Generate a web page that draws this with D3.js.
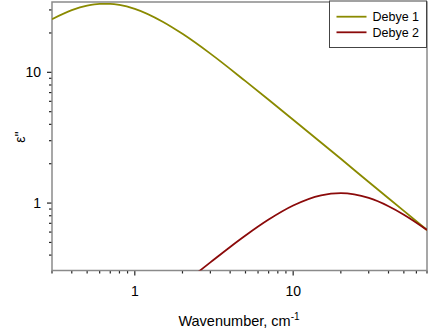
<!DOCTYPE html>
<html>
<head>
<meta charset="UTF-8" />
<script src="https://d3js.org/d3.v7.min.js"></script>
<style>
    body { margin: 0; background: white; }
    text { font-family: Arial, "Liberation Sans", sans-serif; fill: #000; }
</style>
</head>
<body>
<svg id="chart" width="429" height="331"></svg>
<script>
// values
const debye1X = [0.3, 0.4, 0.5, 0.6, 0.7, 0.8, 1, 1.5, 2, 3, 5, 7, 10, 20, 30, 50, 70];
const debye1Y = [25.5, 29.9, 32.4, 33.4, 33.4, 32.8, 30.6, 24.4, 19.7, 13.9, 8.56, 6.17, 4.34, 2.18, 1.45, 0.871, 0.622];
const debye2X = [2.5, 3, 4, 5, 7, 10, 15, 20, 30, 40, 50, 70];
const debye2Y = [0.296, 0.352, 0.462, 0.565, 0.748, 0.958, 1.146, 1.19, 1.094, 0.946, 0.815, 0.623];
const seriesNames = ['Debye 1', 'Debye 2'];
const seriesColors = ['#8a8a00', '#8b0a0a'];
const xMajor = [1, 10];
const yMajor = [1, 10];

const svg = d3.select('svg#chart');
const margins = {top: 2, right: 2, bottom: 60.5, left: 52};
const width = +svg.attr('width');
const height = +svg.attr('height');
const chartWidth = width - margins.left - margins.right;
const chartHeight = height - margins.top - margins.bottom;

const xScale = d3.scaleLog().domain([0.3, 70]).range([0, chartWidth]);
const yScale = d3.scaleLog().domain([0.305, 34.5]).range([chartHeight, 0]);

const chartArea = svg.append('g')
    .attr('transform', `translate(${margins.left}, ${margins.top})`);

svg.append('defs').append('clipPath').attr('id', 'clip')
    .append('rect').attr('width', chartWidth).attr('height', chartHeight);

// minor + major ticks
const xTicks = [0.3,0.4,0.5,0.6,0.7,0.8,0.9,1,2,3,4,5,6,7,8,9,10,20,30,40,50,60,70];
const yTicks = [0.4,0.5,0.6,0.7,0.8,0.9,1,2,3,4,5,6,7,8,9,10,20,30];

xTicks.forEach(t => {
    const major = xMajor.includes(t);
    chartArea.append('line')
        .attr('x1', xScale(t)).attr('x2', xScale(t))
        .attr('y1', chartHeight).attr('y2', chartHeight + (major ? 5 : 3))
        .style('stroke', '#222').style('stroke-width', '1.2px');
});
yTicks.forEach(t => {
    const major = yMajor.includes(t);
    chartArea.append('line')
        .attr('x1', 0).attr('x2', major ? -5 : -3)
        .attr('y1', yScale(t)).attr('y2', yScale(t))
        .style('stroke', '#222').style('stroke-width', '1.2px');
});

xMajor.forEach(t => {
    chartArea.append('text')
        .attr('x', xScale(t)).attr('y', chartHeight + 25)
        .attr('text-anchor', 'middle')
        .style('font-size', '14px')
        .text(t);
});
yMajor.forEach(t => {
    chartArea.append('text')
        .attr('x', -11).attr('y', yScale(t) + 5)
        .attr('text-anchor', 'end')
        .style('font-size', '14px')
        .text(t);
});

// frame
chartArea.append('rect')
    .attr('x', 0).attr('y', 0)
    .attr('width', chartWidth).attr('height', chartHeight)
    .style('fill', 'none').style('stroke', '#8a8a8a').style('stroke-width', '1.5px');

// curves
const line = d3.line()
    .x(d => xScale(d[0]))
    .y(d => yScale(d[1]))
    .curve(d3.curveMonotoneX);

const series = [d3.zip(debye1X, debye1Y), d3.zip(debye2X, debye2Y)];
series.forEach((s, i) => {
    chartArea.append('path')
        .datum(s)
        .attr('clip-path', 'url(#clip)')
        .attr('d', line)
        .style('fill', 'none')
        .style('stroke', seriesColors[i])
        .style('stroke-width', '1.8px');
});

// axis titles
const xTitle = svg.append('text')
    .attr('x', 239).attr('y', 326)
    .attr('text-anchor', 'middle')
    .style('font-size', '14.5px');
xTitle.append('tspan').text('Wavenumber, cm');
xTitle.append('tspan').attr('dy', -6).style('font-size', '10px').text('-1');

svg.append('text')
    .attr('transform', 'translate(25, 137) rotate(-90)')
    .attr('text-anchor', 'middle')
    .style('font-size', '14px')
    .text('ε\'\'');

// legend
const legend = svg.append('g').attr('transform', 'translate(329.5, 1)');
legend.append('rect')
    .attr('width', 97).attr('height', 46.5)
    .style('fill', 'white').style('stroke', '#444').style('stroke-width', '1px');
seriesNames.forEach((n, i) => {
    const y = 15.7 + i * 15.6;
    legend.append('line')
        .attr('x1', 7).attr('x2', 37).attr('y1', y).attr('y2', y)
        .style('stroke', seriesColors[i]).style('stroke-width', '1.8px');
    legend.append('text')
        .attr('x', 43).attr('y', y + 4.5)
        .style('font-size', '12.5px')
        .text(n);
});
</script>
</body>
</html>
